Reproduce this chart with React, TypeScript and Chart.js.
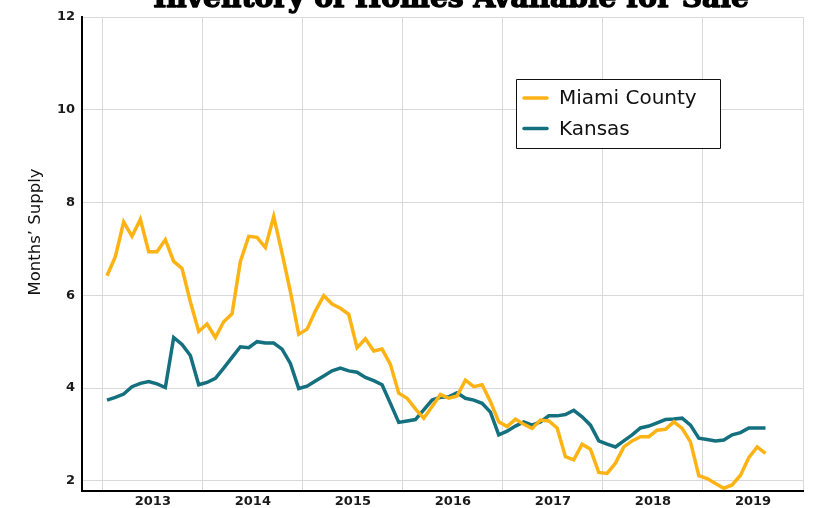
import { useEffect, useRef } from 'react';
import { Chart, registerables } from 'chart.js';

Chart.register(...registerables);

const chartTitle = 'Inventory of Homes Available for Sale';
const yAxisTitle = 'Months’ Supply';
const seriesNames = ['Miami County', 'Kansas'];
const seriesColors = ['#FDB314', '#14707F'];

const months = [
  'Jul 2012', 'Aug 2012', 'Sep 2012', 'Oct 2012', 'Nov 2012', 'Dec 2012',
  'Jan 2013', 'Feb 2013', 'Mar 2013', 'Apr 2013', 'May 2013', 'Jun 2013', 'Jul 2013', 'Aug 2013', 'Sep 2013', 'Oct 2013', 'Nov 2013', 'Dec 2013',
  'Jan 2014', 'Feb 2014', 'Mar 2014', 'Apr 2014', 'May 2014', 'Jun 2014', 'Jul 2014', 'Aug 2014', 'Sep 2014', 'Oct 2014', 'Nov 2014', 'Dec 2014',
  'Jan 2015', 'Feb 2015', 'Mar 2015', 'Apr 2015', 'May 2015', 'Jun 2015', 'Jul 2015', 'Aug 2015', 'Sep 2015', 'Oct 2015', 'Nov 2015', 'Dec 2015',
  'Jan 2016', 'Feb 2016', 'Mar 2016', 'Apr 2016', 'May 2016', 'Jun 2016', 'Jul 2016', 'Aug 2016', 'Sep 2016', 'Oct 2016', 'Nov 2016', 'Dec 2016',
  'Jan 2017', 'Feb 2017', 'Mar 2017', 'Apr 2017', 'May 2017', 'Jun 2017', 'Jul 2017', 'Aug 2017', 'Sep 2017', 'Oct 2017', 'Nov 2017', 'Dec 2017',
  'Jan 2018', 'Feb 2018', 'Mar 2018', 'Apr 2018', 'May 2018', 'Jun 2018', 'Jul 2018', 'Aug 2018', 'Sep 2018', 'Oct 2018', 'Nov 2018', 'Dec 2018',
  'Jan 2019', 'Feb 2019',
];

const miamiCounty = [
  6.42, 6.83, 7.58, 7.27, 7.64, 6.94, 6.94, 7.20, 6.73, 6.58,
  5.86, 5.22, 5.38, 5.09, 5.43, 5.60, 6.73, 7.27, 7.25, 7.03,
  7.70, 6.91, 6.08, 5.16, 5.27, 5.66, 5.99, 5.81, 5.72, 5.59,
  4.87, 5.06, 4.80, 4.84, 4.51, 3.89, 3.78, 3.55, 3.35, 3.60,
  3.86, 3.78, 3.83, 4.17, 4.03, 4.07, 3.71, 3.27, 3.17, 3.33,
  3.22, 3.13, 3.31, 3.29, 3.14, 2.52, 2.45, 2.79, 2.68, 2.18,
  2.16, 2.38, 2.73, 2.86, 2.95, 2.95, 3.09, 3.11, 3.27, 3.13,
  2.84, 2.11, 2.05, 1.94, 1.84, 1.91, 2.12, 2.50, 2.73, 2.59,
];

const kansas = [
  3.74, 3.80, 3.87, 4.03, 4.10, 4.14, 4.09, 4.01, 5.09, 4.94,
  4.70, 4.07, 4.12, 4.21, 4.43, 4.66, 4.89, 4.87, 5.00, 4.97,
  4.97, 4.84, 4.53, 3.99, 4.04, 4.15, 4.26, 4.37, 4.43, 4.37,
  4.34, 4.23, 4.16, 4.07, 3.67, 3.26, 3.29, 3.32, 3.53, 3.74,
  3.80, 3.81, 3.90, 3.78, 3.74, 3.67, 3.48, 2.99, 3.07, 3.18,
  3.27, 3.20, 3.27, 3.40, 3.40, 3.43, 3.52, 3.38, 3.20, 2.86,
  2.79, 2.73, 2.86, 2.99, 3.14, 3.18, 3.25, 3.32, 3.33, 3.35,
  3.20, 2.92, 2.89, 2.86, 2.88, 2.99, 3.04, 3.14, 3.14, 3.14,
];

const yearLabels = ['2013', '2014', '2015', '2016', '2017', '2018', '2019'];
const yTicks = [2, 4, 6, 8, 10, 12];

const gridPositions = Array.from({ length: yearLabels.length + 1 }, (_, k) => -0.5 + 12 * k);
const labelPositions = yearLabels.map((_, k) => 5.5 + 12 * k);

const SANS = '"DejaVu Sans", "Open Sans", sans-serif';

const overlayPlugin = {
  id: 'overlay',
  afterDraw(chart: any) {
    const ctx = chart.ctx as CanvasRenderingContext2D;
    ctx.save();
    // Title (cut off at top, as in reference)
    ctx.fillStyle = '#000';
    ctx.strokeStyle = '#000';
    ctx.font = 'bold 30px "DejaVu Serif", serif';
    const w = ctx.measureText(chartTitle).width;
    const size = (30 * 596) / w;
    ctx.font = `bold ${size}px "DejaVu Serif", serif`;
    ctx.textAlign = 'center';
    ctx.textBaseline = 'alphabetic';
    ctx.lineWidth = 1.4;
    ctx.lineJoin = 'round';
    ctx.fillText(chartTitle, 451, 7);
    ctx.strokeText(chartTitle, 451, 7);

    // Y-axis title
    ctx.save();
    ctx.translate(36, 232);
    ctx.rotate(-Math.PI / 2);
    ctx.font = `16.5px ${SANS}`;
    ctx.fillStyle = '#111';
    ctx.textAlign = 'center';
    ctx.textBaseline = 'middle';
    ctx.fillText(yAxisTitle, 0, 0);
    ctx.restore();

    // Legend box
    const bx = 516, by = 79, bw = 204, bh = 69;
    ctx.fillStyle = '#fff';
    ctx.fillRect(bx, by, bw, bh);
    ctx.strokeStyle = '#111';
    ctx.lineWidth = 1;
    ctx.strokeRect(bx + 0.5, by + 0.5, bw, bh);
    const rows = [98, 128.5];
    seriesNames.forEach((name, i) => {
      ctx.strokeStyle = seriesColors[i];
      ctx.lineWidth = 3.5;
      ctx.lineCap = 'round';
      ctx.beginPath();
      ctx.moveTo(524, rows[i]);
      ctx.lineTo(547, rows[i]);
      ctx.stroke();
      ctx.fillStyle = '#111';
      ctx.font = `20px ${SANS}`;
      ctx.textAlign = 'left';
      ctx.textBaseline = 'middle';
      ctx.fillText(name, 559, rows[i] + 1);
    });
    ctx.restore();
  },
};

export default function App() {
  const canvasRef = useRef<HTMLCanvasElement | null>(null);

  useEffect(() => {
    const canvas = canvasRef.current;
    if (!canvas) return;
    const chart = new Chart(canvas, {
      type: 'line',
      data: {
        labels: months,
        datasets: [
          {
            label: seriesNames[0],
            data: miamiCounty.map((v, i) => ({ x: i, y: v })),
            borderColor: seriesColors[0],
            backgroundColor: seriesColors[0],
            borderWidth: 3.5,
            pointRadius: 0,
            tension: 0,
            fill: false,
          },
          {
            label: seriesNames[1],
            data: kansas.map((v, i) => ({ x: i, y: v })),
            borderColor: seriesColors[1],
            backgroundColor: seriesColors[1],
            borderWidth: 3.5,
            pointRadius: 0,
            tension: 0,
            fill: false,
          },
        ],
      },
      options: {
        responsive: false,
        animation: false,
        devicePixelRatio: 1,
        layout: { padding: { top: 17, right: 11, left: 0, bottom: 0 } },
        plugins: {
          legend: { display: false },
          title: { display: false },
          tooltip: { enabled: false },
        },
        scales: {
          x: {
            type: 'linear',
            min: -3,
            max: 83.5,
            afterBuildTicks: (scale: any) => {
              const vals = [...gridPositions, ...labelPositions].sort((a, b) => a - b);
              scale.ticks = vals.map((v) => ({ value: v }));
            },
            afterFit: (scale: any) => {
              scale.height = 17;
            },
            ticks: {
              autoSkip: false,
              maxRotation: 0,
              padding: 3,
              color: '#1a1a1a',
              font: { family: SANS, size: 13, weight: 'bold' },
              callback: (value: any) => {
                const k = labelPositions.indexOf(Number(value));
                return k >= 0 ? yearLabels[k] : '';
              },
            },
            grid: {
              drawTicks: false,
              color: (ctx: any) =>
                ctx.tick && gridPositions.includes(ctx.tick.value) ? '#d9d9d9' : 'rgba(0,0,0,0)',
              lineWidth: 1,
            },
            border: { display: true, color: '#000', width: 2 },
          },
          y: {
            type: 'linear',
            min: 1.78,
            max: 12,
            afterBuildTicks: (scale: any) => {
              scale.ticks = yTicks.map((v) => ({ value: v }));
            },
            afterFit: (scale: any) => {
              scale.width = 82;
            },
            ticks: {
              padding: 7,
              color: '#1a1a1a',
              font: { family: SANS, size: 13, weight: 'bold' },
            },
            grid: { drawTicks: false, color: '#d9d9d9', lineWidth: 1 },
            border: { display: true, color: '#000', width: 2 },
          },
        },
      } as any,
      plugins: [overlayPlugin],
    });
    return () => chart.destroy();
  }, []);

  return (
    <div style={{ position: 'fixed', left: 0, top: 0, width: 814, height: 508, background: '#fff' }}>
      <canvas ref={canvasRef} width={814} height={508} />
    </div>
  );
}
